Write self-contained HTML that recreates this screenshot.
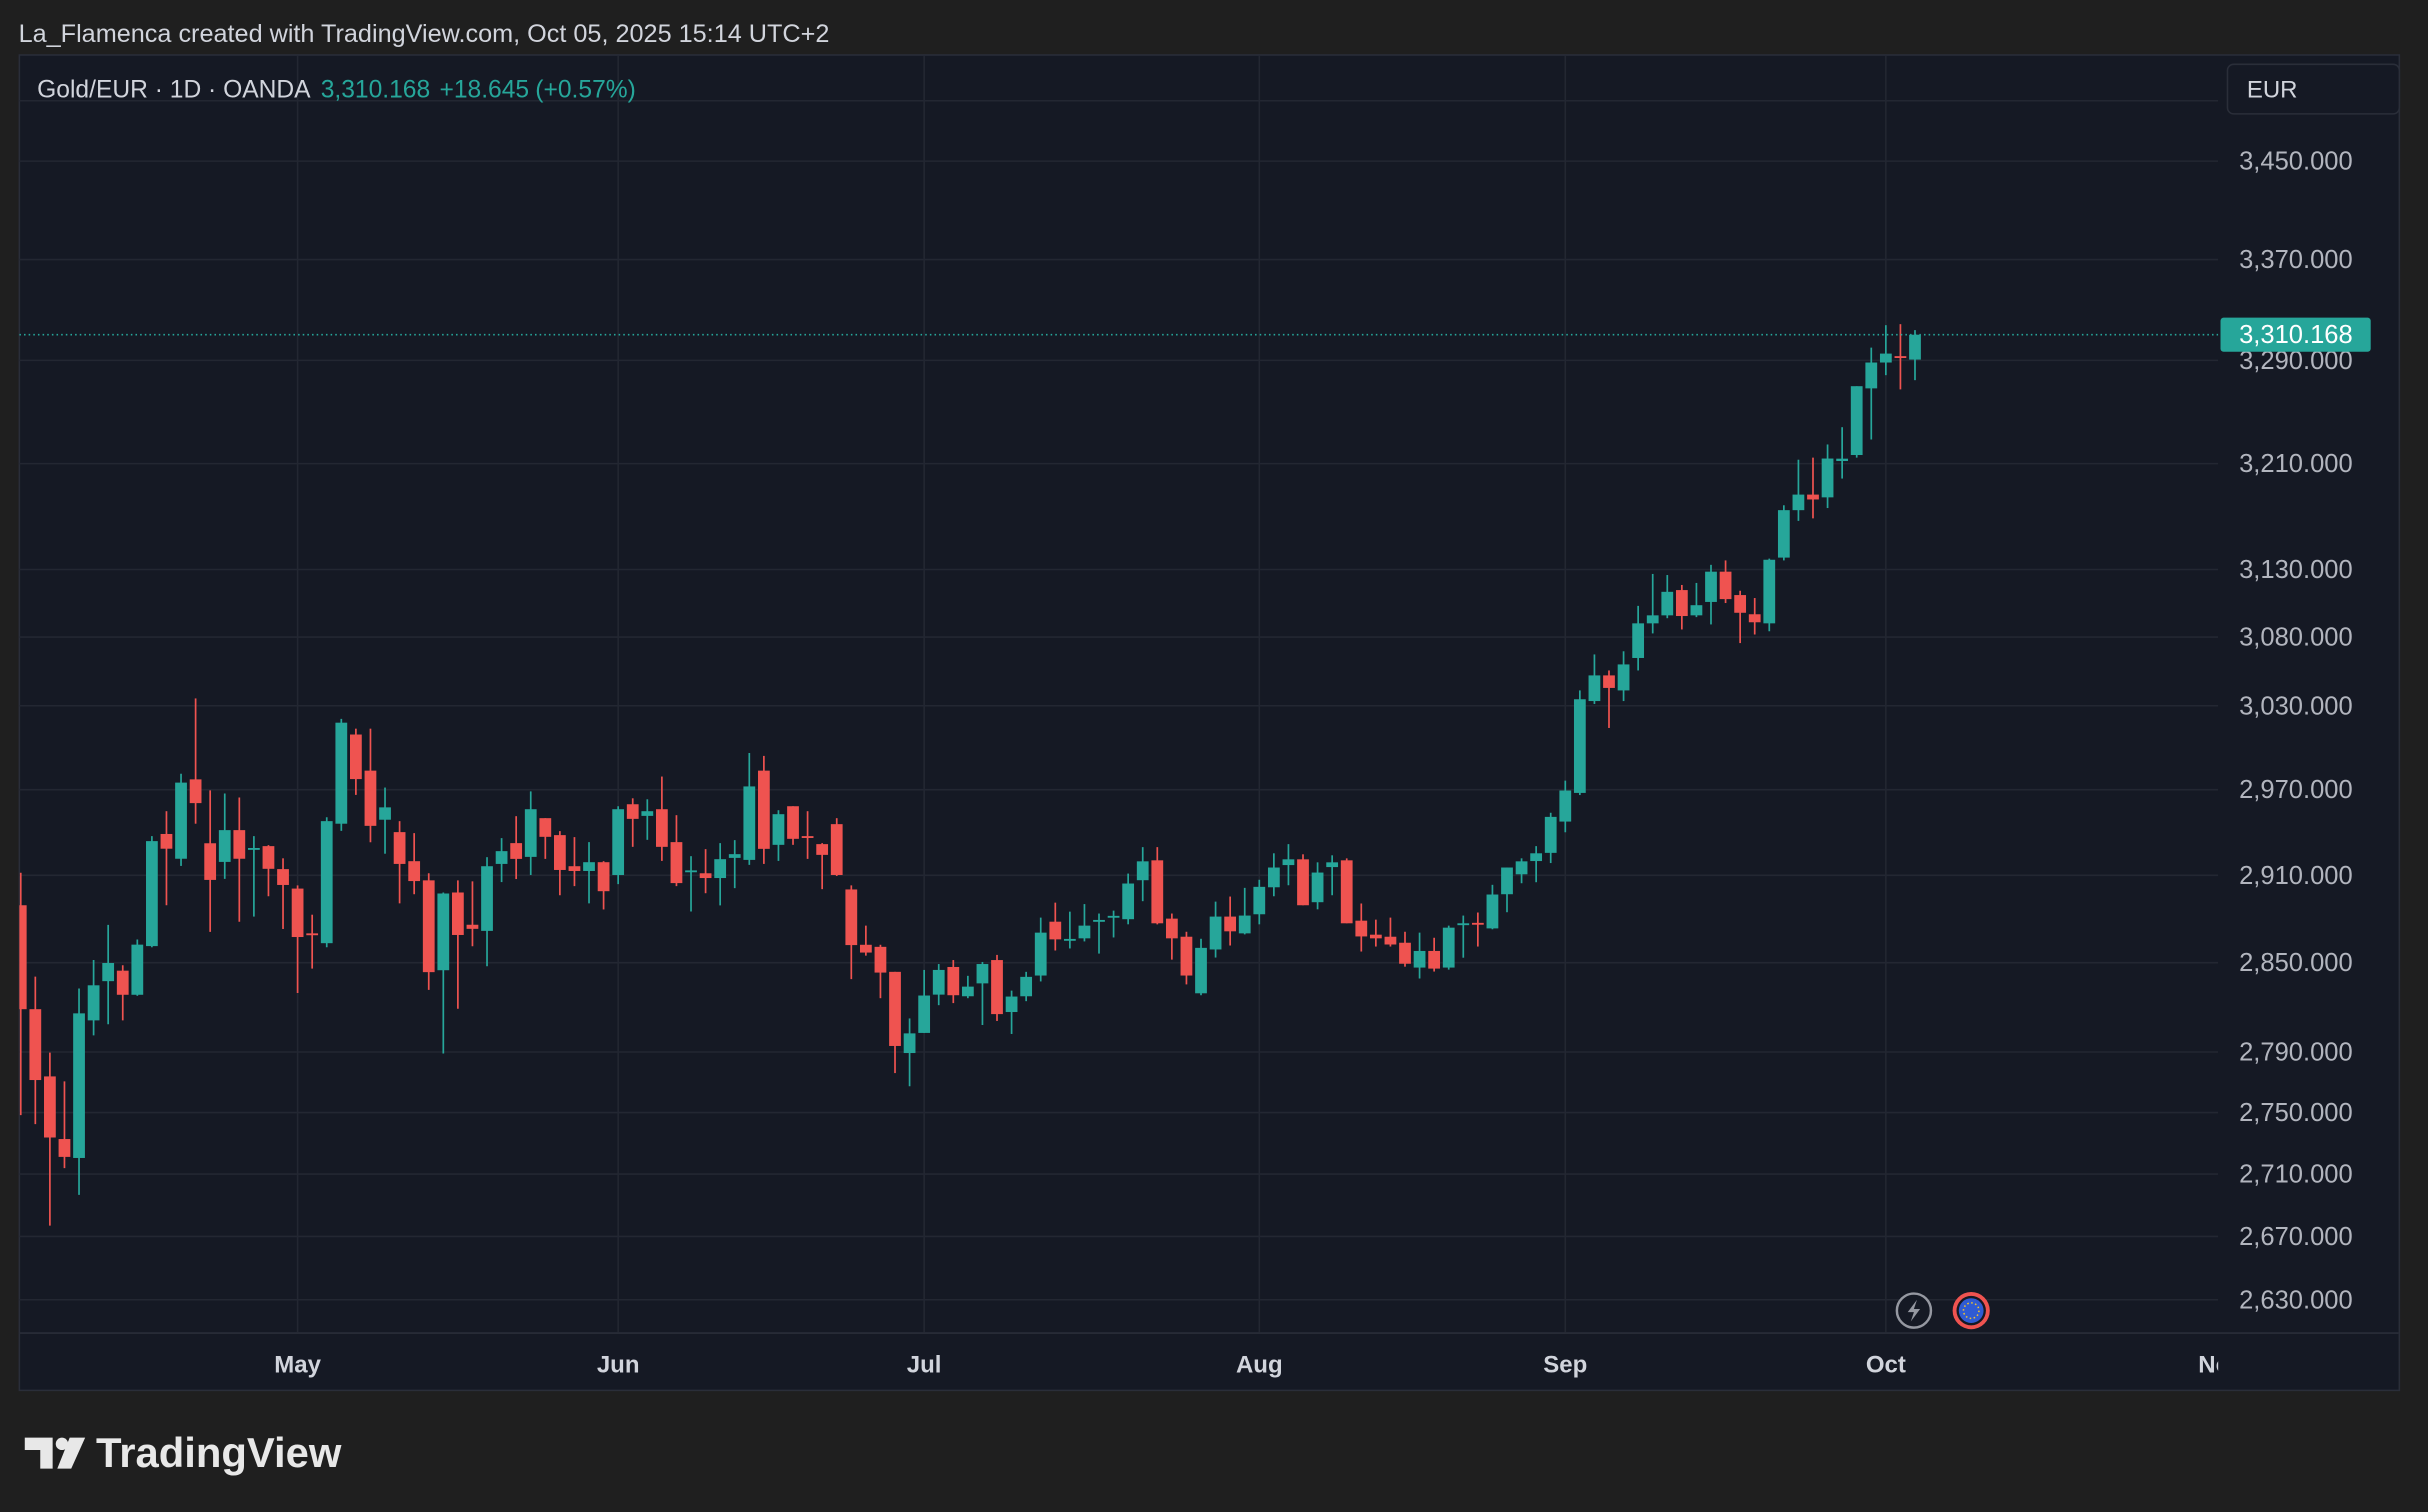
<!DOCTYPE html>
<html><head><meta charset="utf-8"><style>
html,body{margin:0;padding:0;background:#1f1f1f;}
svg{display:block;}
text{font-family:"Liberation Sans",Arial,sans-serif;}
</style></head><body>
<svg id="chart" xmlns="http://www.w3.org/2000/svg" width="2428" height="1512" viewBox="0 0 1568 976" preserveAspectRatio="none">
<rect x="0" y="0" width="1568" height="976" fill="#1f1f1f"/>
<text x="12" y="27" font-size="16.3" fill="#d1d4dc">La_Flamenca created with TradingView.com, Oct 05, 2025 15:14 UTC+2</text>
<rect x="12.5" y="35.5" width="1537" height="862" fill="#151924" stroke="#2a2e39"/>
<g id="grid"></g>
<g id="candles"></g>
<g id="yaxis"></g>
<g id="xaxis"></g>
<text x="24" y="63" font-size="15.9" fill="#d1d4dc">Gold/EUR · 1D · OANDA <tspan fill="#26a69a" dx="3">3,310.168</tspan><tspan fill="#26a69a" dx="6">+18.645</tspan><tspan fill="#26a69a" dx="4">(+0.57%)</tspan></text>
<rect x="1438.5" y="41.5" width="111" height="32" rx="4" fill="#151924" stroke="#2a2e39"/>
<text x="1451" y="63" font-size="15.5" fill="#d1d4dc">EUR</text>
<g><circle cx="1236" cy="846" r="11" fill="#151924" stroke="#9598a1" stroke-width="1.6"/><path d="M1238 839 L1232 847 L1236 847 L1234 853 L1240 845 L1236 845 Z" fill="#9598a1"/></g>
<g><circle cx="1273" cy="846" r="12" fill="#ef5350"/><circle cx="1273" cy="846" r="9.5" fill="#151924"/><circle cx="1273" cy="846" r="8" fill="#2f5bd3"/><circle cx="1273" cy="846" r="5" fill="none" stroke="#f0c330" stroke-width="1" stroke-dasharray="1 1.6"/></g>
<g>
<path d="M16 928 H34 V948 H26 V936 H16 Z" fill="#e8e8e8"/><circle cx="40" cy="932" r="4" fill="#e8e8e8"/><path d="M45 928 H55 L46 948 H37 Z" fill="#e8e8e8"/>
<text x="62" y="947" font-size="27" font-weight="bold" fill="#e8e8e8">TradingView</text>
</g>
</svg>
<script>
const opens=[2889.3,2818.6,2773.8,2732.7,2720.4,2811.1,2837.5,2844.6,2828.3,2861.3,2938.8,2921.5,2977.3,2932.3,2919.3,2941.5,2928,2930.3,2914.3,2900.8,2870,2863.3,2946,3009.3,2983.5,2948.8,
2940.1,2919.8,2906.5,2844.9,2898.1,2875.9,2871.7,2917.9,2932.4,2922.8,2949.9,2938,2916.3,2913,2919.1,2910.2,2959.7,2951.5,2956.2,2933.1,2912.6,2911.4,2908.1,2922.1,2920.7,2983.5,2931.2,2958.3,2937.3,2931.7,2945.7,2900.2,
2862.2,2860.8,2843.8,2789.3,2802.7,2828.4,2847.1,2827.3,2836,2851.8,2816.7,2827.3,2841.3,2878,2865.6,2866.6,2878.7,2881.5,2879.7,2906.6,2920.4,2880.1,2867.7,2829.3,2859,2881.5,2870,2883.1,2901.7,2917.1,2921.1,2891.4,2915.7,2920.4,2878.7,2869.1,2867.7,2863.6,2846.7,2858,2846.7,2876.6,2877.2,2873.4,2896.9,2910.7,2919.9,2925.6,
2947.5,2967.7,3033.4,3052,3041.1,3064.7,3090.1,3096,3114.7,3096,3105.9,3128.4,3111,3096.8,3090.1,3138.9,3174.6,3186.4,3184.3,3212,3216.6,3268.1,3288.3,3293.3,3290.6];
const closes=[2818.6,2771.4,2733.7,2721.1,2815.8,2834.7,2849.8,2828.3,2862.3,2933.8,2928.5,2975,2960.5,2906.8,2941.5,2921.5,2929,2914.5,2903.3,2867.5,2869,2947.8,3017.8,2977.5,2944.5,2957.5,
2917.9,2906,2843.6,2897.4,2868.9,2873.1,2916.3,2926.8,2921.4,2956.2,2936.8,2913.7,2913,2919.1,2899,2956.2,2949.4,2954.8,2929.8,2904.6,2913.4,2908.1,2921.2,2924.7,2972.3,2928.4,2952.7,2935.4,2936.4,2924.2,2910.2,2862,
2856.9,2843.3,2794,2802.4,2827.8,2845.1,2828,2833.8,2849.1,2815.3,2827.1,2840.4,2870.5,2865.9,2866.2,2875.3,2879.2,2882,2904.3,2919.7,2876.9,2866.6,2841.3,2860.1,2881.5,2871.4,2882.2,2902,2915.4,2921.1,2889.3,2911.9,2919,2876.9,2867.9,2866.6,2862.4,2849.3,2858,2846,2873.9,2876.9,2876.9,2896.7,2915.4,2919.7,2925.3,2950.8,
2969.4,3034.7,3052,3042.9,3060,3090.1,3096,3113.4,3095.5,3103.5,3128.4,3108,3097.9,3090.9,3137.3,3174.6,3186.4,3182.7,3213.9,3213.8,3269.8,3288.3,3295.3,3292.8,3310.17];
const highs=[2911.8,2840.6,2789.6,2770.5,2832.5,2851.8,2875.8,2848.3,2865.8,2937.3,2954.8,2981.3,3035.3,2969.5,2967.3,2964.5,2937.3,2931,2921.8,2903,2882.8,2950.5,3020.5,3013.5,3013.5,2971.5,
2947.8,2939.4,2911.4,2898.1,2906.5,2905.8,2922.6,2935.9,2951.3,2968.8,2949.9,2940.8,2936.6,2933.1,2919.8,2958.3,2963.9,2963.2,2979.3,2952,2923.3,2928.2,2932.4,2934.5,2996.1,2994,2955.5,2958.3,2954.8,2932.4,2949.9,2903,
2875.3,2862.2,2843.8,2812.4,2845.1,2849.1,2851.8,2841.1,2850.5,2855.3,2831.1,2843.8,2880.8,2891.1,2884.9,2890.1,2883.6,2885.6,2911.2,2929.6,2929.6,2883.6,2871.1,2866.3,2891.8,2895.3,2901.3,2906.9,2925.3,2931.7,2924.6,2919,2923.9,2921.8,2890.5,2879.4,2880.8,2871.1,2870.5,2867,2875.3,2882.2,2884.3,2903.4,2915.4,2921.8,2930.3,2953.7,
2976.4,3041.1,3067.3,3055.6,3069.6,3103,3126.7,3125.9,3118.5,3120,3133.5,3136.8,3114.2,3108.8,3138.1,3178.3,3213,3214.6,3224.7,3238,3269.8,3300,3317.7,3318.5,3313.8];
const lows=[2748.3,2742.4,2676.9,2713.8,2696.6,2801.1,2808.5,2811.1,2827.6,2860.5,2889.3,2916.5,2946,2871,2907.5,2878,2881.5,2895.5,2873,2829.5,2846,2860.5,2941,2966.3,2933,2925,
2890.6,2896.9,2831.6,2789,2818.9,2861.2,2847.6,2905.3,2907.4,2910.2,2921.4,2896.2,2902.5,2890.6,2886.4,2903.9,2929.8,2934.7,2920,2902.5,2885,2897.6,2889.2,2901.1,2917.2,2917.9,2920,2931.2,2921.4,2900.4,2909.5,2838.9,
2854.8,2826,2776,2767.3,2802.7,2821.3,2822.7,2826,2808,2810.7,2802,2824,2837.3,2858.3,2859.7,2864.5,2856.2,2867.2,2876.2,2892.1,2876.2,2852.1,2835.3,2828,2853.5,2861.7,2869.3,2876.2,2895.5,2903.1,2889.3,2886.5,2896.2,2876.9,2857.6,2861,2861,2847.3,2839.3,2844,2845.3,2853.4,2861,2872.8,2884.5,2904.5,2905.2,2918.5,
2940,2966.2,3031.3,3014,3033.4,3055.6,3082.7,3093.9,3085.6,3094.7,3089.3,3105.1,3075.6,3081.9,3084.3,3136.8,3166.5,3168.4,3176.2,3198.6,3214.6,3228.5,3278.4,3267.3,3274.5];
const priceTicks=[3450,3370,3290,3210,3130,3080,3030,2970,2910,2850,2790,2750,2710,2670,2630];
const extraGrid=[3500];
const monthLabels=['May','Jun','Jul','Aug','Sep','Oct','Nov'];
const monthIndex=[19,41,62,85,106,128,151];
const lastPrice=3310.168;

const NS='http://www.w3.org/2000/svg';
const X0=13.4, DX=9.41, PL=12.5, PR=1432.5, PT=36, PB=860;
const y=p=>839-735*Math.log(p/2630)/Math.log(3450/2630);
const x=i=>X0+i*DX;
function mk(tag,attrs,parent){const e=document.createElementNS(NS,tag);for(const k in attrs)e.setAttribute(k,attrs[k]);parent.appendChild(e);return e;}
const svg=document.getElementById('chart');
const defs=mk('defs',{},svg);
const cp=mk('clipPath',{id:'plotclip'},defs);
mk('rect',{x:PL,y:PT,width:PR-PL,height:PB-PT},cp);
const cpx=mk('clipPath',{id:'axisclip'},defs);
mk('rect',{x:PL,y:PB,width:PR-PL,height:38},cpx);

const grid=document.getElementById('grid');
grid.setAttribute('clip-path','url(#plotclip)');
priceTicks.concat(extraGrid).forEach(p=>{
  const l=mk('line',{x1:PL,x2:PR,y1:y(p),y2:y(p),stroke:'#232732','stroke-width':1},grid);
  
  
});
monthIndex.forEach(i=>{
  const l=mk('line',{x1:x(i),x2:x(i),y1:PT,y2:PB,stroke:'#232732','stroke-width':1},grid);
  
  
});
const axl=mk('line',{x1:PL,x2:1549,y1:PB+0.5,y2:PB+0.5,stroke:'#2a2e39'},grid.parentNode);



const cg=document.getElementById('candles');
cg.setAttribute('clip-path','url(#plotclip)');
const bw=7.6;
for(let i=0;i<opens.length;i++){
  const up=closes[i]>=opens[i];
  const col=up?'#26a69a':'#ef5350';
  const g=mk('g',{},cg);
  
  
  mk('line',{x1:x(i),x2:x(i),y1:y(highs[i]),y2:y(lows[i]),stroke:col,'stroke-width':1.1},g);
  const t=y(Math.max(opens[i],closes[i])),b=y(Math.min(opens[i],closes[i]));
  mk('rect',{x:x(i)-bw/2,y:t,width:bw,height:Math.max(1.2,b-t),fill:col},g);
}
const lp=mk('line',{x1:PL,x2:PR,y1:y(lastPrice),y2:y(lastPrice),stroke:'#26a69a','stroke-width':1,'stroke-dasharray':'1 2'},cg);



const ya=document.getElementById('yaxis');
priceTicks.forEach(p=>{
  const t=mk('text',{x:1446,y:y(p)+5.5,'font-size':16.5,fill:'#b2b5be'},ya);
  t.textContent=p.toLocaleString('en-US',{minimumFractionDigits:3});
  
  
});
const lb=mk('rect',{x:1434,y:y(lastPrice)-11,width:97,height:22,rx:2,fill:'#26a69a'},ya);


const lt=mk('text',{x:1446,y:y(lastPrice)+5.5,'font-size':16.5,fill:'#ffffff'},ya);
lt.textContent=lastPrice.toLocaleString('en-US',{minimumFractionDigits:3});



const xa=document.getElementById('xaxis');
xa.setAttribute('clip-path','url(#axisclip)');
monthLabels.forEach((m,k)=>{
  const t=mk('text',{x:x(monthIndex[k]),y:886,'font-size':15.5,'font-weight':'bold',fill:'#d1d4dc','text-anchor':'middle'},xa);
  t.textContent=m;
  
  
});
</script>
</body></html>
